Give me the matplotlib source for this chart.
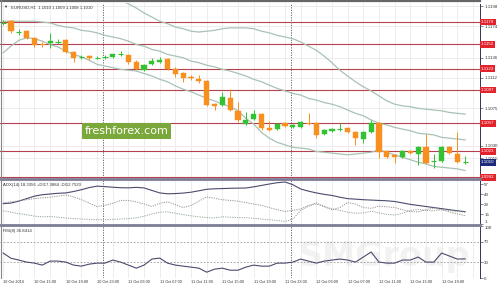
import matplotlib
matplotlib.use("Agg")
import matplotlib.pyplot as plt
from matplotlib.lines import Line2D
import numpy as np

plt.rcParams['font.family'] = ['Liberation Sans', 'DejaVu Sans']

# EURUSD H1, bars 10 Oct 2016 11:00 .. 12 Oct 2016 22:00
opens = [1.1178, 1.1180, 1.1167, 1.1168, 1.1160, 1.1152, 1.1154, 1.1155, 1.1157, 1.1143,
         1.1137, 1.1138, 1.1136, 1.1137, 1.1137, 1.1140, 1.1139, 1.1131, 1.1121, 1.1128,
         1.1131, 1.1134, 1.1122, 1.1117, 1.1113, 1.1110, 1.1108, 1.1080, 1.1079, 1.1087,
         1.1072, 1.1056, 1.1062, 1.1068, 1.1051, 1.1050, 1.1057, 1.1052, 1.1052, 1.1057,
         1.1057, 1.1044, 1.1048, 1.1050, 1.1051, 1.1046, 1.1038, 1.1046, 1.1057, 1.1023,
         1.1019, 1.1016, 1.1023, 1.1020, 1.1028, 1.1012, 1.1011, 1.1028, 1.1020, 1.1010]
highs = [1.1181, 1.1181, 1.1171, 1.1169, 1.1161, 1.1155, 1.1166, 1.1159, 1.1159, 1.1144,
         1.1139, 1.1139, 1.1138, 1.1139, 1.1141, 1.1144, 1.1140, 1.1133, 1.1128, 1.1136,
         1.1137, 1.1136, 1.1125, 1.1119, 1.1115, 1.1115, 1.1109, 1.1081, 1.1095, 1.1098,
         1.1083, 1.1070, 1.1073, 1.1069, 1.1060, 1.1057, 1.1058, 1.1056, 1.1060, 1.1069,
         1.1058, 1.1050, 1.1051, 1.1057, 1.1052, 1.1048, 1.1048, 1.1061, 1.1058, 1.1025,
         1.1020, 1.1025, 1.1025, 1.1029, 1.1044, 1.1020, 1.1029, 1.1029, 1.1046, 1.1017]
lows = [1.1175, 1.1166, 1.1163, 1.1159, 1.1149, 1.1149, 1.1148, 1.1152, 1.1142, 1.1131,
        1.1134, 1.1133, 1.1134, 1.1134, 1.1136, 1.1138, 1.1128, 1.1121, 1.1120, 1.1127,
        1.1130, 1.1121, 1.1113, 1.1107, 1.1109, 1.1106, 1.1078, 1.1073, 1.1078, 1.1072,
        1.1058, 1.1055, 1.1061, 1.1049, 1.1048, 1.1049, 1.1052, 1.1051, 1.1051, 1.1055,
        1.1039, 1.1043, 1.1046, 1.1048, 1.1045, 1.1031, 1.1033, 1.1045, 1.1015, 1.1015,
        1.1009, 1.1015, 1.1020, 1.1007, 1.1008, 1.1003, 1.1010, 1.1020, 1.1009, 1.1008]
closes = [1.1179, 1.1168, 1.1168, 1.1160, 1.1151, 1.1151, 1.1156, 1.1156, 1.1143, 1.1136,
          1.1138, 1.1136, 1.1137, 1.1137, 1.1140, 1.1141, 1.1131, 1.1122, 1.1127, 1.1132,
          1.1133, 1.1122, 1.1116, 1.1111, 1.1111, 1.1108, 1.1079, 1.1078, 1.1089, 1.1073,
          1.1061, 1.1061, 1.1068, 1.1051, 1.1049, 1.1056, 1.1054, 1.1055, 1.1058, 1.1056,
          1.1043, 1.1049, 1.1050, 1.1050, 1.1046, 1.1039, 1.1046, 1.1057, 1.1022, 1.1016,
          1.1016, 1.1023, 1.1021, 1.1028, 1.1009, 1.1013, 1.1028, 1.1021, 1.1010, 1.1010]

bb_upper = [1.1225, 1.1220, 1.1216, 1.1214, 1.1214, 1.1215, 1.1216, 1.1217, 1.1217, 1.1216,
            1.1215, 1.1214, 1.1213, 1.1211, 1.1209, 1.1205, 1.1201, 1.1196, 1.1190, 1.1185,
            1.1180, 1.1177, 1.1173, 1.1171, 1.1168, 1.1167, 1.1168, 1.1169, 1.1171, 1.1172,
            1.1172, 1.1172, 1.1171, 1.1168, 1.1166, 1.1163, 1.1161, 1.1159, 1.1155, 1.1150,
            1.1145, 1.1138, 1.1130, 1.1121, 1.1114, 1.1107, 1.1101, 1.1096, 1.1090, 1.1084,
            1.1080, 1.1078, 1.1077, 1.1075, 1.1074, 1.1073, 1.1072, 1.1070, 1.1069, 1.1068]
bb_mid = [1.1180, 1.1180, 1.1180, 1.1180, 1.1180, 1.1179, 1.1178, 1.1175, 1.1173, 1.1172,
          1.1169, 1.1168, 1.1166, 1.1163, 1.1161, 1.1159, 1.1156, 1.1152, 1.1150, 1.1146,
          1.1144, 1.1140, 1.1138, 1.1136, 1.1132, 1.1130, 1.1127, 1.1125, 1.1122, 1.1120,
          1.1117, 1.1114, 1.1110, 1.1107, 1.1103, 1.1099, 1.1096, 1.1093, 1.1091, 1.1087,
          1.1085, 1.1082, 1.1080, 1.1077, 1.1073, 1.1069, 1.1066, 1.1061, 1.1057, 1.1055,
          1.1052, 1.1050, 1.1048, 1.1045, 1.1044, 1.1043, 1.1040, 1.1039, 1.1038, 1.1037]
bb_lower = [1.1142, 1.1150, 1.1157, 1.1160, 1.1159, 1.1156, 1.1152, 1.1149, 1.1144, 1.1140,
            1.1137, 1.1133, 1.1128, 1.1126, 1.1124, 1.1122, 1.1121, 1.1120, 1.1117, 1.1114,
            1.1110, 1.1107, 1.1102, 1.1098, 1.1095, 1.1091, 1.1087, 1.1084, 1.1080, 1.1077,
            1.1072, 1.1063, 1.1056, 1.1046, 1.1039, 1.1034, 1.1031, 1.1028, 1.1027, 1.1026,
            1.1023, 1.1022, 1.1021, 1.1020, 1.1019, 1.1020, 1.1021, 1.1022, 1.1025, 1.1022,
            1.1019, 1.1016, 1.1013, 1.1010, 1.1008, 1.1005, 1.1004, 1.1003, 1.1002, 1.1000]

adx = [29.5, 30.3, 33, 36.5, 40, 42, 43, 44, 44.5, 46.5, 49, 52, 54, 53.3, 52.5, 51.8, 51.6,
       52.3, 51.5, 48, 44.5, 43.3, 43.6, 44.3, 45.5, 47.5, 49.6, 50.3, 50.6, 51, 51.2, 51.4,
       53, 55, 57, 58.8, 59.8, 56, 50, 47, 44.5, 42.5, 41, 38.5, 36.5, 35.8, 35, 34.5, 34,
       33.5, 32.5, 30.5, 28.5, 27, 25.5, 24, 22.5, 21, 19.5, 18.3]
plus_di = [19.5, 17.5, 15.5, 14, 12, 11, 11.5, 10.5, 9.5, 8.5, 8, 7.5, 7, 7, 7.5, 8, 8.5,
           9.5, 12, 15, 17.5, 18, 16, 14, 12.5, 11, 10, 9.5, 11, 10.5, 10, 9.8, 9, 8, 7, 6,
           4.5, 8, 20, 26, 29, 26, 22, 20, 17.5, 16, 16.5, 19, 16.5, 14.5, 13.5, 16, 20, 21.5,
           20, 19.5, 21, 20, 18.5, 17.4]
minus_di = [30.6, 32, 33.5, 35, 36.5, 37.6, 38.5, 40, 41.7, 39, 35, 30, 25.5, 27, 30, 34, 34,
            32, 29, 25.5, 30, 32, 28, 24, 27, 33, 38.9, 37, 35, 34, 33, 31, 29, 27, 24, 21,
            18.5, 20, 22, 27, 30.6, 25, 21, 24, 31, 29, 24, 23, 26, 25.1, 24, 21, 18.5, 18,
            21, 23.5, 21, 18, 15, 12.75]
rsi = [48, 38, 34.5, 30.6, 28.6, 24.8, 32.5, 32.5, 30.6, 24.8, 22.8, 26.7, 28.6, 28.6, 34.5,
       30.6, 24.8, 18.9, 24.8, 36.4, 38.3, 28.6, 24.8, 22.8, 20.9, 18.9, 11.2, 17, 18.9, 15,
       15, 20.9, 24.8, 22.8, 22.8, 28.6, 28.6, 30.6, 36.4, 32.5, 28.6, 32.5, 34.5, 36.4, 34.5,
       30.6, 40.3, 50, 30.6, 28.6, 28.6, 34.5, 34.5, 40.3, 30.6, 30.6, 48, 42.2, 36.4, 36.8]

tick_pos = [0, 4, 8, 12, 16, 20, 24, 28, 32, 36, 40, 44, 48, 52, 56]
tick_labels = ['10 Oct 2016', '10 Oct 15:00', '10 Oct 19:00', '10 Oct 23:00', '11 Oct 03:00',
               '11 Oct 07:00', '11 Oct 11:00', '11 Oct 15:00', '11 Oct 19:00', '11 Oct 23:00',
               '12 Oct 03:00', '12 Oct 07:00', '12 Oct 11:00', '12 Oct 15:00', '12 Oct 19:00']
day_breaks = [13, 37]
levels = [1.1179, 1.1152, 1.1123, 1.1097, 1.1057, 1.1023, 1.0992]
price_ticks = [1.1198, 1.1174, 1.1136, 1.1112, 1.1075, 1.1030, 1.1015]
last_price = 1.1010
adx_ticks = [57, 43, 29, 15, 1]
rsi_ticks = [100, 70, 30, 0]

GREEN = '#33c233'
ORANGE = '#f7901e'
BAND = '#a9c2b3'
GRID = '#e6e6e6'
SEP = '#7c7c96'

n = len(closes)
W, H = 500, 287
fig = plt.figure(figsize=(5, 2.87), dpi=100)
fig.patch.set_facecolor('white')

def px_axes(top, bottom):
    return fig.add_axes([0, 1 - bottom / H, 480 / W, (bottom - top) / H])

ax1 = px_axes(3, 178)
ax2 = px_axes(180, 224)
ax3 = px_axes(226, 278)

xmin = -0.4
xmax = xmin + 480 / 7.83
for ax in (ax1, ax2, ax3):
    ax.set_xlim(xmin, xmax)
    ax.set_facecolor('white')
    for s in ('top', 'left', 'bottom'):
        ax.spines[s].set_visible(False)
    ax.spines['right'].set_linestyle((0, (1, 1)))
    ax.spines['right'].set_color('#333355')
    ax.spines['right'].set_linewidth(0.7)
    ax.set_xticks(np.arange(0, 61, 2), minor=True)
    ax.set_xticks(tick_pos)
    ax.grid(True, which='both', axis='x', color=GRID, lw=0.5)
    ax.tick_params(axis='x', which='both', length=0, labelbottom=False)
    ax.tick_params(axis='y', left=False, labelleft=False, right=True, labelright=True,
                   length=2, width=0.4, labelsize=3.2, pad=1, colors='#333333')
    for d in day_breaks:
        ax.axvline(d - 0.2, color='#555555', lw=0.6, ls=(0, (1.5, 1.5)), zorder=1)

# ---- main price panel
ax1.set_ylim(1.0991, 1.1202)
ax1.set_yticks(price_ticks)
ax1.set_yticklabels([f'{p:.4f}' for p in price_ticks])
ax1.grid(True, axis='y', color=GRID, lw=0.5)
for p in levels:
    ax1.axhline(p, color='#b5404f', lw=0.8, zorder=2)
    ax1.text(1.002, p, f'{p:.4f}', transform=ax1.get_yaxis_transform(), fontsize=3.2,
             color='white', va='center', ha='left', clip_on=False, zorder=6,
             bbox=dict(boxstyle='square,pad=0.3', fc='#e3232c', ec='none'))
ax1.text(1.002, last_price, f'{last_price:.4f}', transform=ax1.get_yaxis_transform(),
         fontsize=3.2, color='white', va='center', ha='left', clip_on=False, zorder=6,
         bbox=dict(boxstyle='square,pad=0.3', fc='#1b2a7a', ec='none'))

x = np.arange(n)
ax1.plot(x, bb_upper, color=BAND, lw=0.9, zorder=3)
ax1.plot(x, bb_mid, color=BAND, lw=0.9, zorder=3)
ax1.plot(x, bb_lower, color=BAND, lw=0.9, zorder=3)

for i in range(n):
    o, h, l, c = opens[i], highs[i], lows[i], closes[i]
    col = GREEN if c >= o else ORANGE
    ax1.vlines(i, l, h, color=col, lw=0.7, zorder=4)
    if abs(c - o) < 0.0001:
        ax1.hlines(o, i - 0.33, i + 0.33, color=col, lw=0.8, zorder=4)
    else:
        ax1.bar(i, abs(c - o), 0.66, bottom=min(o, c), color=col, edgecolor=col,
                lw=0.3, zorder=5)

ax1.text(0.006, 0.975, '\u25bc', transform=ax1.transAxes, fontsize=3, color='#333333',
         va='center', ha='left')
ax1.text(0.022, 0.975, 'EURUSD,H1  1.1010 1.1009 1.1008 1.1010', transform=ax1.transAxes,
         fontsize=3.1, color='#333333', va='center', ha='left')
ax1.text(0.263, 0.269, 'freshforex.com', transform=ax1.transAxes, fontsize=8,
         family='DejaVu Sans', color='white', va='center', ha='center', zorder=7,
         bbox=dict(boxstyle='square,pad=0.25', fc='#7aa83a', ec='none'))

# ---- ADX panel
ax2.set_ylim(1, 62.6)
ax2.set_yticks(adx_ticks)
ax2.get_yticklabels()[-1].set_verticalalignment('bottom')
ax2.plot(x, adx, color='#4b4b6e', lw=0.8, zorder=3)
ax2.plot(x, plus_di, color='#8fa58f', lw=0.7, ls=(0, (1.2, 1.2)), zorder=3)
ax2.plot(x, minus_di, color='#9a8f8f', lw=0.7, ls=(0, (1.2, 1.2)), zorder=3)
ax2.text(0.006, 0.88, 'ADX(14) 18.3356 +DI17.3884 -DI12.7520', transform=ax2.transAxes,
         fontsize=3.1, color='#333333', va='center', ha='left')

# ---- RSI panel
ax3.text(0.80, 0.42, 'SMGroup', transform=ax3.transAxes, fontsize=24, fontweight='bold',
         family='DejaVu Sans', color='#f2f2f2', va='center', ha='center', zorder=0)
ax3.set_ylim(0, 100)
ax3.set_yticks(rsi_ticks)
ax3.get_yticklabels()[0].set_verticalalignment('top')
for lv in (70, 30):
    ax3.axhline(lv, color='#999999', lw=0.6, ls=(0, (2, 2)), zorder=2)
ax3.plot(x, rsi, color='#4b4b6e', lw=0.8, zorder=3)
ax3.text(0.006, 0.9, 'RSI(8) 36.8414', transform=ax3.transAxes, fontsize=3.1,
         color='#333333', va='center', ha='left')
ax3.set_xticks(tick_pos)
ax3.set_xticklabels(tick_labels)
ax3.tick_params(axis='x', which='major', labelbottom=True, labelsize=2.8, pad=1.5,
                colors='#333333')
for lab in ax3.get_xticklabels():
    lab.set_horizontalalignment('left')

# ---- window frame and panel separators
def hline_px(y, lw, color):
    fig.add_artist(Line2D([0, 480 / W], [1 - y / H, 1 - y / H], lw=lw, color=color))

hline_px(0.8, 1.6, '#666666')
hline_px(178.8, 2.0, SEP)
hline_px(224.8, 2.0, SEP)
fig.add_artist(Line2D([0.001, 0.001], [1 - 278 / H, 1], lw=0.8, color='#888888'))

fig.savefig('out.png', dpi=100)
